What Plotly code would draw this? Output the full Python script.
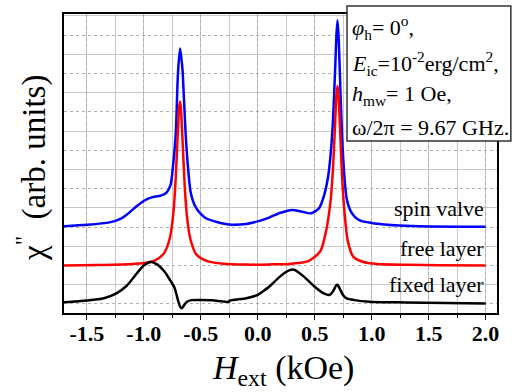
import plotly.graph_objects as go

# ---- data ----
sv_x = [-1.7, -1.5, -1.3, -1.2, -1.15, -1.06, -0.99, -0.93, -0.85, -0.8, -0.765, -0.75, -0.72, -0.70, -0.682,
        -0.67, -0.66, -0.645, -0.632, -0.61, -0.588, -0.55, -0.5, -0.45, -0.35, -0.25, -0.1, 0.0, 0.1, 0.2,
        0.3, 0.38, 0.47, 0.54, 0.58, 0.617, 0.64, 0.66, 0.68, 0.69, 0.70, 0.71, 0.72, 0.74, 0.76, 0.78, 0.81,
        0.85, 0.9, 1.0, 1.07, 1.2, 1.42, 2.0]
sv_y = [4.05, 4.12, 4.25, 4.45, 4.65, 5.1, 5.4, 5.55, 5.64, 5.8, 6.2, 6.8, 8.8, 12.0, 13.3,
        12.8, 12.2, 10.4, 8.8, 7.0, 5.8, 5.1, 4.69, 4.45, 4.26, 4.14, 4.17, 4.3, 4.5, 4.75,
        4.9, 4.82, 4.72, 5.0, 5.6, 6.6, 7.8, 9.5, 12.3, 13.9, 14.77, 13.9, 12.2, 8.8, 6.7, 5.5, 4.9,
        4.55, 4.34, 4.22, 4.17, 4.1, 4.05, 4.02]

free_x = [-1.7, -1.4, -1.2, -1.0, -0.9, -0.82, -0.77, -0.74, -0.72, -0.70, -0.69, -0.682, -0.674, -0.66,
          -0.64, -0.62, -0.59, -0.54, -0.45, -0.3, -0.1, 0.1, 0.3, 0.45, 0.55, 0.6, 0.64, 0.66, 0.68, 0.69,
          0.70, 0.71, 0.72, 0.74, 0.76, 0.79, 0.84, 0.92, 1.05, 1.3, 1.6, 2.0]
free_y = [2.01, 2.03, 2.05, 2.13, 2.27, 2.66, 3.46, 4.76, 6.5, 9.1, 10.2, 10.55, 10.2, 8.57,
          6.07, 4.51, 3.36, 2.59, 2.24, 2.09, 2.05, 2.06, 2.1, 2.25, 2.75, 3.8, 5.4, 7.0, 9.49, 10.81,
          11.36, 10.81, 9.49, 6.68, 4.88, 3.3, 2.45, 2.2, 2.08, 2.04, 2.02, 2.0]

fix_x = [-1.7, -1.5, -1.35, -1.24, -1.15, -1.08, -1.0, -0.94, -0.88, -0.82, -0.77, -0.73, -0.70, -0.68,
         -0.665, -0.645, -0.62, -0.58, -0.5, -0.4, -0.25, -0.249, -0.1, 0.0, 0.02, 0.1, 0.2, 0.28, 0.32,
         0.4, 0.5, 0.58, 0.63, 0.66, 0.69, 0.70, 0.72, 0.75, 0.78, 0.85, 0.98, 1.3, 2.0]
fix_y = [0.09, 0.18, 0.3, 0.55, 0.95, 1.45, 2.0, 2.19, 2.05, 1.7, 1.25, 0.85, 0.2, -0.15,
         -0.22, -0.05, 0.12, 0.2, 0.21, 0.19, 0.12, 0.17, 0.3, 0.47, 0.55, 0.9, 1.45, 1.76, 1.78,
         1.45, 0.9, 0.55, 0.47, 0.65, 0.98, 1.0, 0.8, 0.45, 0.29, 0.2, 0.12, 0.08, 0.02]

tick_vals = [-1.5, -1.0, -0.5, 0.0, 0.5, 1.0, 1.5, 2.0]
tick_text = ["-1.5", "-1.0", "-0.5", "0.0", "0.5", "1.0", "1.5", "2.0"]

labels = ["spin valve", "free layer", "fixed layer"]
label_y = [4.95, 2.9, 1.02]
colors = ["#0000ff", "#ff0000", "#000000"]

FONT = "Liberation Serif, Times New Roman, serif"
XRANGE = [-1.7, 2.1]

fig = go.Figure()
for xs, ys, c in [(sv_x, sv_y, colors[0]), (free_x, free_y, colors[1]), (fix_x, fix_y, colors[2])]:
    fig.add_trace(go.Scatter(x=xs, y=ys, mode="lines", line=dict(color=c, width=2.5, shape="spline", smoothing=0.7),
                             showlegend=False, hoverinfo="skip"))
# invisible trace carrying the tick-mark axis
fig.add_trace(go.Scatter(x=[XRANGE[0]], y=[0], xaxis="x2", mode="markers", marker=dict(opacity=0),
                         showlegend=False, hoverinfo="skip"))

for t, yy in zip(labels, label_y):
    fig.add_annotation(x=2.0, y=yy, xref="x", yref="y", text=t, showarrow=False, xanchor="right",
                       yanchor="middle", font=dict(family=FONT, size=22, color="black"))

# info box
fig.add_shape(type="rect", xref="paper", yref="paper", x0=0.6536, x1=1.032, y0=0.575, y1=1.0266,
              fillcolor="white", line=dict(color="#333333", width=1.5), layer="above")
box_lines = ["<i>φ</i><sub>h</sub>= 0<sup>o</sup>,",
             "<i>E</i><sub>ic</sub>=10<sup>-2</sup>erg/cm<sup>2</sup>,",
             "<i>h</i><sub>mw</sub>= 1 Oe,",
             "ω/2π = 9.67 GHz."]
box_y = [0.955, 0.835, 0.73, 0.62]
for t, yy in zip(box_lines, box_y):
    fig.add_annotation(x=0.6605, y=yy, xref="paper", yref="paper", text=t, showarrow=False,
                       xanchor="left", yanchor="middle", font=dict(family=FONT, size=22, color="black"))

# axis titles
fig.add_annotation(x=0.505, y=-0.19, xref="paper", yref="paper", text="<i>H</i><sub>ext</sub> (kOe)",
                   showarrow=False, xanchor="center", yanchor="middle", font=dict(family=FONT, size=34, color="black"))
fig.add_annotation(x=-0.0739, y=0.485, xref="paper", yref="paper", text="χ<sup>\"</sup>  (arb. units)",
                   showarrow=False, textangle=-90, xanchor="center", yanchor="middle",
                   font=dict(family=FONT, size=33, color="black"))

fig.update_layout(
    width=513, height=392, margin=dict(l=64, r=16, t=12, b=79),
    paper_bgcolor="white", plot_bgcolor="white",
    font=dict(family=FONT, color="black"),
    xaxis=dict(range=XRANGE, tickmode="array", tickvals=tick_vals, ticktext=tick_text,
               ticks="", showline=True, linecolor="black", linewidth=2, mirror=True,
               showgrid=True, gridcolor="#b0b0b0", griddash="dot", gridwidth=1,
               minor=dict(dtick=0.25, tick0=-1.5, showgrid=True, gridcolor="#c8c8c8", griddash="solid", gridwidth=1),
               zeroline=False,
               tickfont=dict(family=FONT, size=22, color="black", weight="bold")),
    xaxis2=dict(range=XRANGE, overlaying="x", side="bottom", anchor="y", tickmode="array", tickvals=tick_vals,
                showticklabels=False, ticks="outside", ticklen=6, tickwidth=1.2, tickcolor="black",
                minor=dict(dtick=0.25, tick0=-1.5, ticks="outside", ticklen=4, tickwidth=1, tickcolor="black",
                           showgrid=False),
                showgrid=False, zeroline=False, showline=False),
    yaxis=dict(range=[-0.47, 15.1], tickmode="linear", tick0=0, dtick=2, showticklabels=False,
               ticks="", showline=True, linecolor="black", linewidth=2, mirror=True,
               showgrid=True, gridcolor="#b0b0b0", griddash="dot", gridwidth=1,
               minor=dict(dtick=1, tick0=0, showgrid=True, gridcolor="#c8c8c8", griddash="solid", gridwidth=1),
               zeroline=False),
)

fig.write_html("out.html")
